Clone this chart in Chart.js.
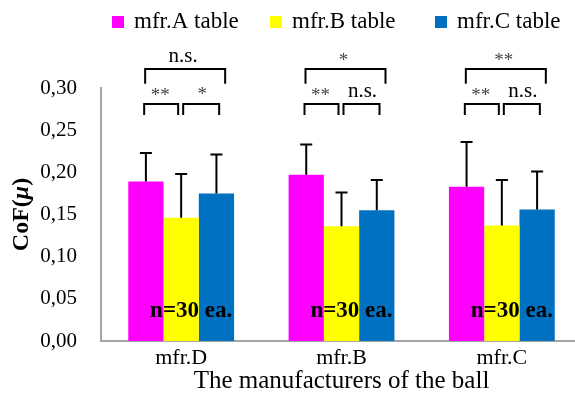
<!DOCTYPE html>
<html>
<head>
<meta charset="utf-8">
<script src="https://cdn.jsdelivr.net/npm/chart.js@4.4.1/dist/chart.umd.min.js"></script>
<style>
  body { margin: 0; background: #fff; overflow: hidden; }
  #wrap { width: 582px; height: 394px; }
</style>
</head>
<body>
<div id="wrap"><canvas id="chartCanvas"></canvas></div>
<script>
const categories = ["mfr.D", "mfr.B", "mfr.C"];
const seriesNames = ["mfr.A table", "mfr.B table", "mfr.C table"];
const tableA = [0.189, 0.197, 0.183];
const tableB = [0.146, 0.136, 0.137];
const tableC = [0.175, 0.155, 0.156];
const errA = [0.034, 0.036, 0.053];
const errB = [0.052, 0.040, 0.054];
const errC = [0.046, 0.036, 0.045];
const sigAC = ["n.s.", "*", "**"];
const sigAB = ["**", "**", "**"];
const sigBC = ["*", "n.s.", "n.s."];
const sampleLabel = "n=30 ea.";
const yTicks = [0, 0.05, 0.10, 0.15, 0.20, 0.25, 0.30];

const colors = ["#FF00FF", "#FFFF00", "#0070C0"];
const serif = "'Liberation Serif', 'Times New Roman', serif";

const errorBars = {
  id: "errorBars",
  afterDatasetsDraw(chart) {
    const ctx = chart.ctx;
    const y = chart.scales.y;
    const errs = [errA, errB, errC];
    ctx.save();
    ctx.strokeStyle = "#000";
    ctx.lineWidth = 2;
    chart.data.datasets.forEach((ds, di) => {
      chart.getDatasetMeta(di).data.forEach((bar, i) => {
        const top = y.getPixelForValue(ds.data[i] + errs[di][i]);
        ctx.beginPath();
        ctx.moveTo(bar.x, bar.y);
        ctx.lineTo(bar.x, top);
        ctx.moveTo(bar.x - 6, top);
        ctx.lineTo(bar.x + 6, top);
        ctx.stroke();
      });
    });
    // n label
    ctx.fillStyle = "#000";
    ctx.font = "bold 23px " + serif;
    ctx.textAlign = "center";
    ctx.textBaseline = "middle";
    categories.forEach((c, i) => {
      ctx.fillText(sampleLabel, chart.scales.x.getPixelForValue(i) + 10, y.getPixelForValue(0.036));
    });
    ctx.restore();
  },
  afterDraw(chart) {
    const ctx = chart.ctx;
    const x = chart.scales.x;
    const y = chart.scales.y;
    ctx.save();
    ctx.strokeStyle = "#000";
    ctx.lineWidth = 2;
    const bracket = (x1, x2, yTop, yLeg) => {
      ctx.beginPath();
      ctx.moveTo(x1, yLeg);
      ctx.lineTo(x1, yTop);
      ctx.lineTo(x2, yTop);
      ctx.lineTo(x2, yLeg);
      ctx.stroke();
    };
    const label = (txt, cx, cy) => {
      const stars = txt.indexOf("*") >= 0;
      ctx.fillStyle = stars ? "#444" : "#000";
      ctx.font = (stars ? "19px " : "21px ") + serif;
      ctx.fillText(txt, cx, stars ? cy + 4 : cy);
    };
    ctx.textAlign = "center";
    ctx.textBaseline = "middle";
    categories.forEach((c, i) => {
      const cx = x.getPixelForValue(i);
      bracket(cx - 36, cx + 44, y.getPixelForValue(0.3225), y.getPixelForValue(0.305));
      bracket(cx - 37, cx - 3, y.getPixelForValue(0.281), y.getPixelForValue(0.268));
      bracket(cx + 2, cx + 38, y.getPixelForValue(0.281), y.getPixelForValue(0.268));
      label(sigAC[i], cx + 2, y.getPixelForValue(0.337));
      label(sigAB[i], cx - 21, y.getPixelForValue(0.295));
      label(sigBC[i], cx + 21, y.getPixelForValue(0.296));
    });

    // legend
    const legendX = [112, 270, 435];
    ctx.textAlign = "left";
    ctx.font = "23px " + serif;
    seriesNames.forEach((name, i) => {
      ctx.fillStyle = colors[i];
      ctx.fillRect(legendX[i], 16, 12, 12);
      ctx.fillStyle = "#000";
      ctx.fillText(name, legendX[i] + 22, 22);
    });

    // y axis title
    ctx.translate(22, (chart.chartArea.top + chart.chartArea.bottom) / 2);
    ctx.rotate(-Math.PI / 2);
    ctx.fillStyle = "#000";
    const p1 = "CoF(", p2 = "\u03BC", p3 = ")";
    ctx.font = "bold 24px " + serif;
    const w1 = ctx.measureText(p1).width, w3 = ctx.measureText(p3).width;
    ctx.font = "bold italic 24px " + serif;
    const w2 = ctx.measureText(p2).width;
    let sx = -(w1 + w2 + w3) / 2;
    ctx.font = "bold 24px " + serif;
    ctx.fillText(p1, sx, 0);
    ctx.font = "bold italic 24px " + serif;
    ctx.fillText(p2, sx + w1, 0);
    ctx.font = "bold 24px " + serif;
    ctx.fillText(p3, sx + w1 + w2, 0);
    ctx.restore();
  }
};

const ctx = document.getElementById("chartCanvas").getContext("2d");
new Chart(ctx, {
  type: "bar",
  data: {
    labels: categories,
    datasets: [tableA, tableB, tableC].map((d, i) => ({
      label: seriesNames[i],
      data: d,
      backgroundColor: colors[i],
      borderWidth: 0,
      categoryPercentage: 0.66,
      barPercentage: 1
    }))
  },
  options: {
    responsive: true,
    maintainAspectRatio: false,
    animation: false,
    layout: { padding: { top: 88, right: 0 } },
    plugins: {
      tooltip: { enabled: false },
      legend: { display: false }
    },
    scales: {
      x: {
        grid: { display: false, drawTicks: false },
        border: { color: "#a6a6a6", width: 2 },
        ticks: { color: "#000", font: { family: serif, size: 22 }, padding: 4 },
        title: {
          display: true,
          text: "The manufacturers of the ball",
          color: "#000",
          font: { family: serif, size: 25, lineHeight: 1 },
          padding: { top: 0, bottom: 0 }
        },
        afterFit: s => { s.height = 53; }
      },
      y: {
        min: 0,
        max: 0.30,
        grid: { display: false, drawTicks: false },
        border: { color: "#a6a6a6", width: 2 },
        afterBuildTicks: s => { s.ticks = yTicks.map(v => ({ value: v })); },
        ticks: {
          color: "#000",
          padding: 24,
          font: { family: serif, size: 21 },
          callback: v => v.toFixed(2).replace(".", ",")
        },
        afterFit: s => { s.width = 101; }
      }
    }
  },
  plugins: [errorBars]
});
</script>
</body>
</html>
